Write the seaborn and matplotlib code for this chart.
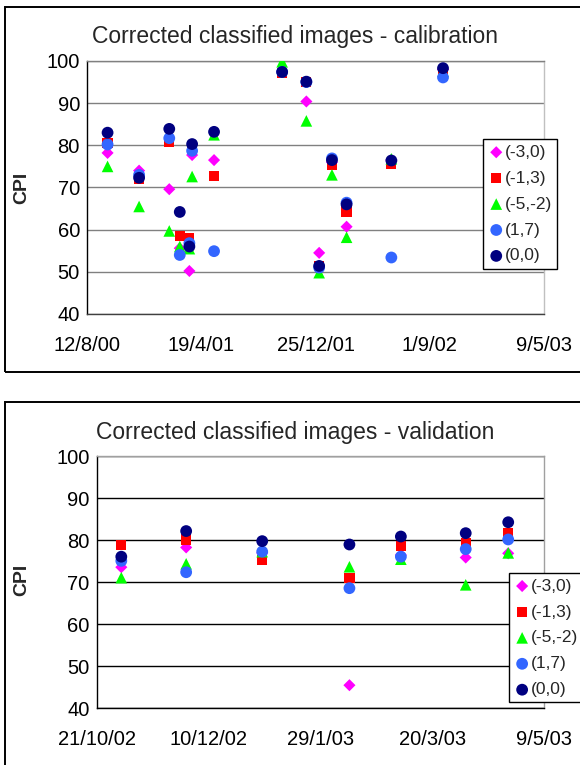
import pandas as pd
import matplotlib
matplotlib.use('Agg')
import matplotlib.pyplot as plt
import seaborn as sns
from matplotlib.patches import Rectangle

# ── DATA ─────────────────────────────────────
series_names = ['(-3,0)', '(-1,3)', '(-5,-2)', '(1,7)', '(0,0)']
series_colors = ['#FF00FF', '#FF0000', '#00FF00', '#3366FF', '#000080']
series_markers = ['D', 's', '^', 'o', 'o']
series_sizes = [38, 54, 70, 72, 72]

# calibration
cal_dates = ['2000-09-26', '2000-12-04', '2001-02-08', '2001-03-03', '2001-03-24',
             '2001-03-30', '2001-05-17', '2001-10-13', '2001-12-05', '2002-01-02',
             '2002-01-30', '2002-03-03', '2002-06-09', '2002-09-30']
cal_m3_0 = [78.2, 74.0, 69.6, 55.6, 50.2, 77.7, 76.5, 97.5, 90.4, 54.5, 76.0, 60.7, 76.5, 98.0]
cal_m1_3 = [80.6, 72.0, 80.9, 58.5, 58.1, 79.8, 72.8, 97.2, 95.1, 51.3, 75.3, 64.3, 75.6, 97.5]
cal_m5_m2 = [75.0, 65.5, 59.7, 56.0, 55.5, 72.6, 82.5, 99.8, 85.8, 49.8, 73.0, 58.2, 76.8, 97.6]
cal_1_7 = [80.2, 73.0, 81.7, 54.0, 56.8, 78.7, 54.9, 97.4, 95.0, 51.0, 76.9, 66.4, 53.4, 96.1]
cal_0_0 = [83.0, 72.3, 83.9, 64.2, 56.0, 80.3, 83.2, 97.4, 95.1, 51.4, 76.5, 66.0, 76.4, 98.3]

cal_ticks = ['2000-08-12', '2001-04-19', '2001-12-25', '2002-09-01', '2003-05-09']
cal_ticklabels = ['12/8/00', '19/4/01', '25/12/01', '1/9/02', '9/5/03']

# validation
val_dates = ['2002-11-01', '2002-11-30', '2003-01-03', '2003-02-11', '2003-03-06',
             '2003-04-04', '2003-04-23']
val_m3_0 = [73.6, 78.3, 77.0, 45.5, 76.5, 75.9, 76.9]
val_m1_3 = [78.9, 80.2, 75.3, 71.0, 78.7, 79.4, 81.7]
val_m5_m2 = [71.1, 74.4, 77.3, 73.7, 75.5, 69.4, 77.0]
val_1_7 = [75.1, 72.4, 77.3, 68.6, 76.1, 77.9, 80.2]
val_0_0 = [76.1, 82.2, 79.8, 79.0, 80.9, 81.7, 84.3]

val_ticks = ['2002-10-21', '2002-12-10', '2003-01-29', '2003-03-20', '2003-05-09']
val_ticklabels = ['21/10/02', '10/12/02', '29/1/03', '20/3/03', '9/5/03']

yticks = [40, 50, 60, 70, 80, 90, 100]

# ── STYLE ────────────────────────────────────
sns.set_style('white')
plt.rcParams['font.family'] = ['Liberation Sans', 'DejaVu Sans']

fig = plt.figure(figsize=(5.8, 7.65), dpi=100)
W, H = 580, 765


def px_axes(x0, y0, x1, y1):
    return fig.add_axes([x0 / W, 1 - y1 / H, (x1 - x0) / W, (y1 - y0) / H])


# chart frames
fig.add_artist(Rectangle((5 / W, 1 - 372 / H), 1.2, 365 / H, transform=fig.transFigure,
                         fill=False, lw=1.4, ec='black'))
fig.add_artist(Rectangle((5 / W, -0.1), 1.2, 1 - 401.7 / H + 0.1, transform=fig.transFigure,
                         fill=False, lw=1.4, ec='black'))


def draw_chart(ax, dates, values, ticks, ticklabels, grid_color, top_color, right_color,
               bottom_color, legend_anchor):
    x = pd.to_datetime(dates)
    for name, vals, col, mk, sz in zip(series_names, values, series_colors,
                                       series_markers, series_sizes):
        sns.scatterplot(x=x, y=vals, ax=ax, color=col, marker=mk, s=sz,
                        edgecolor='none', linewidth=0, label=name, zorder=3)
    tick_dates = pd.to_datetime(ticks)
    ax.set_xlim(tick_dates[0], tick_dates[-1])
    ax.set_ylim(40, 100)
    ax.set_xticks(tick_dates)
    ax.set_xticklabels(ticklabels)
    ax.set_yticks(yticks)
    ax.set_xlabel('')
    ax.set_ylabel('')
    ax.yaxis.grid(True, color=grid_color, lw=1)
    ax.set_axisbelow(True)
    ax.spines['top'].set_color(top_color)
    ax.spines['right'].set_color(right_color)
    ax.spines['left'].set_color('black')
    ax.spines['bottom'].set_color(bottom_color)
    for sp in ax.spines.values():
        sp.set_linewidth(1)
    ax.tick_params(axis='both', direction='out', length=3.6, width=1, color='black',
                   labelsize=14.5, labelcolor='black')
    ax.tick_params(axis='y', pad=1.5)
    ax.tick_params(axis='x', pad=12)
    ax.legend(loc='upper left', bbox_to_anchor=legend_anchor, borderaxespad=0,
              frameon=True, fancybox=False, framealpha=1, edgecolor='black',
              fontsize=12.5, handletextpad=0.05, handlelength=0.9, borderpad=0.3,
              labelspacing=0.62)
    ax.get_legend().get_frame().set_linewidth(1)
    ax.get_legend().set_clip_on(False)


ax1 = px_axes(87, 61, 544, 314)
draw_chart(ax1, cal_dates, [cal_m3_0, cal_m1_3, cal_m5_m2, cal_1_7, cal_0_0],
           cal_ticks, cal_ticklabels, '#808080', '#808080', '#C0C0C0', '#404040',
           (0.867, 0.69))

ax2 = px_axes(96.7, 456.3, 544, 708.3)
draw_chart(ax2, val_dates, [val_m3_0, val_m1_3, val_m5_m2, val_1_7, val_0_0],
           val_ticks, val_ticklabels, 'black', '#A0A0A0', '#A0A0A0', 'black',
           (0.922, 0.536))

# titles and y labels
fig.text(295 / W, 1 - 37 / H, 'Corrected classified images - calibration',
         ha='center', va='center', fontsize=16.5)
fig.text(295 / W, 1 - 432 / H, 'Corrected classified images - validation',
         ha='center', va='center', fontsize=16.5)
fig.text(22 / W, 1 - 188 / H, 'CPI', rotation=90, ha='center', va='center',
         fontsize=14, fontweight='bold')
fig.text(22 / W, 1 - 580 / H, 'CPI', rotation=90, ha='center', va='center',
         fontsize=14, fontweight='bold')

plt.savefig('out.png', dpi=100)
